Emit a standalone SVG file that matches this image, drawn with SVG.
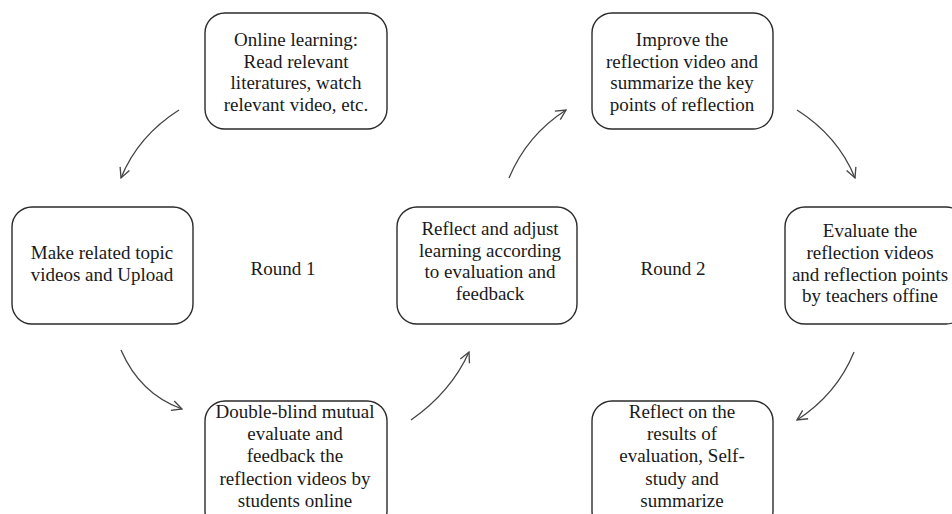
<svg xmlns="http://www.w3.org/2000/svg" width="952" height="514" viewBox="0 0 952 514">
<style>
.box{fill:#fff;stroke:#2b2b2b;stroke-width:1.4}
.t{font-family:"Liberation Serif","Times New Roman",serif;font-size:19px;fill:#1a1a1a;text-anchor:middle}
.c{fill:none;stroke:#444;stroke-width:1.3;marker-end:url(#ah)}
</style>
<defs>
<marker id="ah" viewBox="0 0 12 12" refX="11" refY="6" markerWidth="12" markerHeight="12" markerUnits="userSpaceOnUse" orient="auto">
<path d="M1,1 L11,6 L1,11" fill="none" stroke="#444" stroke-width="1.3"/>
</marker>
</defs>
<rect width="952" height="514" fill="#fff"/>
<g id="connectors">
<path class="c" d="M179,110 Q138,136 121,178"/>
<path class="c" d="M121,350 Q140,394 182,409"/>
<path class="c" d="M411,420 Q451,392 469,352"/>
<path class="c" d="M509,178 Q527,135 566,110"/>
<path class="c" d="M797,110 Q838,136 855,178"/>
<path class="c" d="M854,352 Q837,394 797,420"/>
</g>
<g id="n1">
<rect class="box" x="205" y="13" width="182" height="116" rx="20"/>
<text class="t" x="296" y="46">Online learning:</text>
<text class="t" x="296" y="68">Read relevant</text>
<text class="t" x="296" y="89">literatures, watch</text>
<text class="t" x="296" y="111">relevant video, etc.</text>
</g>
<g id="n2">
<rect class="box" x="592" y="13" width="181" height="116" rx="20"/>
<text class="t" x="682" y="46">Improve the</text>
<text class="t" x="682" y="68">reflection video and</text>
<text class="t" x="682" y="89">summarize the key</text>
<text class="t" x="682" y="111">points of reflection</text>
</g>
<g id="n3">
<rect class="box" x="12" y="207" width="181" height="117" rx="20"/>
<text class="t" x="102" y="259">Make related topic</text>
<text class="t" x="102" y="281">videos and Upload</text>
</g>
<g id="n4">
<rect class="box" x="397" y="207" width="180" height="117" rx="20"/>
<text class="t" x="490" y="235">Reflect and adjust</text>
<text class="t" x="490" y="257">learning according</text>
<text class="t" x="490" y="278">to evaluation and</text>
<text class="t" x="490" y="300">feedback</text>
</g>
<g id="n5">
<rect class="box" x="785" y="207" width="181" height="117" rx="20"/>
<text class="t" x="870" y="237">Evaluate the</text>
<text class="t" x="870" y="259">reflection videos</text>
<text class="t" x="870" y="281">and reflection points</text>
<text class="t" x="870" y="302">by teachers offine</text>
</g>
<g id="n6">
<rect class="box" x="205" y="401" width="182" height="130" rx="20"/>
<text class="t" x="295" y="418">Double-blind mutual</text>
<text class="t" x="295" y="440">evaluate and</text>
<text class="t" x="295" y="462">feedback the</text>
<text class="t" x="295" y="485">reflection videos by</text>
<text class="t" x="295" y="507">students online</text>
</g>
<g id="n7">
<rect class="box" x="592" y="401" width="181" height="130" rx="20"/>
<text class="t" x="682" y="418">Reflect on the</text>
<text class="t" x="682" y="440">results of</text>
<text class="t" x="682" y="462">evaluation, Self-</text>
<text class="t" x="682" y="485">study and</text>
<text class="t" x="682" y="507">summarize</text>
</g>
<g id="labels">
<text class="t" x="283" y="275">Round 1</text>
<text class="t" x="673" y="275">Round 2</text>
</g>
</svg>
